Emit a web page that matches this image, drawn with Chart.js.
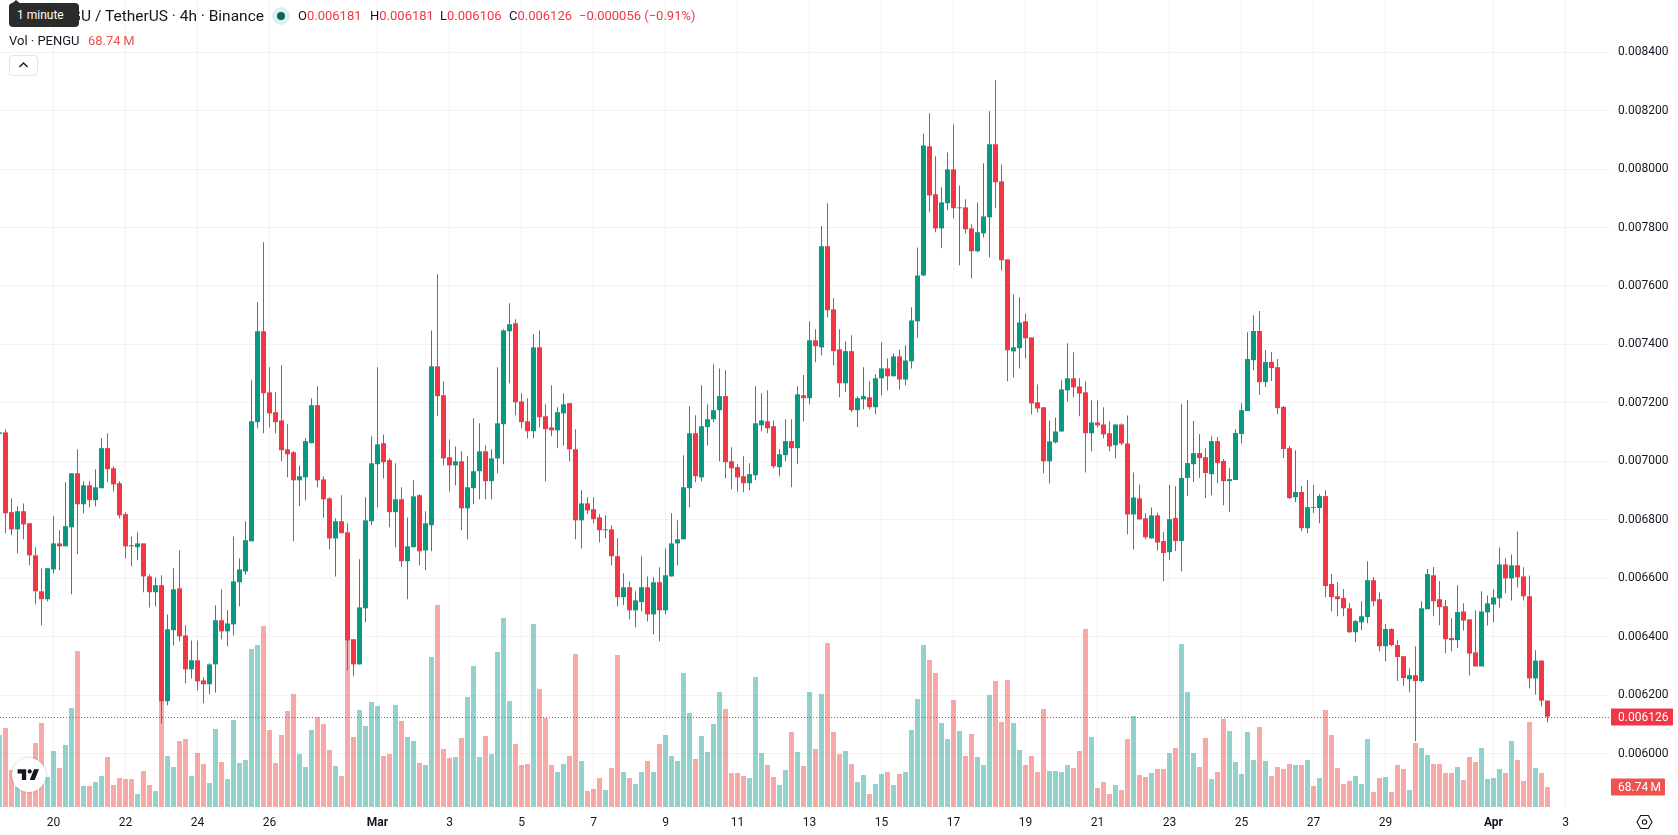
<!DOCTYPE html>
<html>
<head>
<meta charset="utf-8">
<title>PENGU / TetherUS 4h</title>
<script src="https://cdn.jsdelivr.net/npm/chart.js@4"></script>
<style>
  html, body { margin: 0; padding: 0; background: #fff; overflow: hidden; }
  #wrap { position: relative; width: 1678px; height: 835px; font-family: Roboto, sans-serif; color: #131722; }
  canvas { position: absolute; left: 0; top: 0; }
  .t { position: absolute; white-space: nowrap; line-height: 16px; font-size: 13px; }
  .red { color: #f23645; }
  #title { right: calc(1678px - 264px); top: 8px; font-size: 15.5px; line-height: 16px; }
  #dot { position: absolute; left: 272px; top: 7px; width: 18px; height: 18px; border-radius: 50%; background: #dff1ee; }
  #dot i { position: absolute; left: 5px; top: 5px; width: 8px; height: 8px; border-radius: 50%; background: #056656; }
  #hint { position: absolute; left: 9px; top: 3px; width: 70px; height: 24px; background: #2b2b2b; border-radius: 4px; color: #fff; font-size: 12px; line-height: 24px; text-indent: 8px; }
  #hintTip { position: absolute; left: 8px; top: 0; }
  #fold { position: absolute; left: 9px; top: 55px; width: 27px; height: 19px; border: 1px solid #e0e3eb; border-radius: 4px; background: #fff; }
  #fold svg { position: absolute; left: 8px; top: 5px; }
  #mark { position: absolute; left: 12px; top: 758px; width: 34px; height: 34px; border-radius: 50%; background: #fff; box-shadow: 0 0 3px rgba(0,0,0,.22); }
  #mark svg { position: absolute; left: 4px; top: 7px; }
  #gear { position: absolute; left: 1636px; top: 814px; }
</style>
</head>
<body>
<div id="wrap">
  <canvas id="chart" width="1678" height="835"></canvas>
  <div class="t" id="title">PENGU / TetherUS · 4h · Binance</div>
  <div id="hint">1 minute</div>
  <svg id="hintTip" width="16" height="6"><path d="M1 6 L8 0 L15 6 Z" fill="#2b2b2b"/></svg>
  <div id="dot"><i></i></div>
  <div class="t" style="left:298px;top:8px">O<span class="red">0.006181</span></div>
  <div class="t" style="left:370px;top:8px">H<span class="red">0.006181</span></div>
  <div class="t" style="left:440px;top:8px">L<span class="red">0.006106</span></div>
  <div class="t" style="left:509px;top:8px">C<span class="red">0.006126</span></div>
  <div class="t red" style="left:579px;top:8px">−0.000056 (−0.91%)</div>
  <div class="t" style="left:9px;top:33px">Vol · PENGU</div>
  <div class="t" style="left:88px;top:33px;color:#ef5350">68.74&#8201;M</div>
  <div id="fold"><svg width="11" height="8" viewBox="0 0 11 8"><path d="M1.5 6 L5.5 2 L9.5 6" fill="none" stroke="#131722" stroke-width="1.3"/></svg></div>
  <div id="mark"><svg width="26" height="20" viewBox="0 0 36 28"><path d="M14 6H2v6h6v9h6V6Zm12 15h-7l6-15h7l-6 15Zm-7-9a3 3 0 1 0 0-6 3 3 0 0 0 0 6Z" fill="#131722"/></svg></div>
  <svg id="gear" width="17" height="16" viewBox="0 0 17 16"><path d="M4.7 1.5 H12.3 L16 8 L12.3 14.5 H4.7 L1 8 Z" fill="none" stroke="#131722" stroke-width="1.1"/><circle cx="8.5" cy="8" r="2.2" fill="none" stroke="#131722" stroke-width="1.1"/></svg>
</div>
<script>
// PENGU/USDT 4h candles, oldest first
const opens = [
0.007094,0.007099,0.006826,0.006767,0.006829,0.006788,0.006678,0.006555,0.006528,0.006630,
0.006719,0.006709,0.006774,0.006959,0.006853,0.006918,0.006867,0.006908,0.007045,0.006976,
0.006925,0.006819,0.006713,0.006706,0.006719,0.006606,0.006552,0.006576,0.006179,0.006422,
0.006565,0.006404,0.006288,0.006319,0.006250,0.006237,0.006305,0.006456,0.006418,0.006442,
0.006586,0.006623,0.006726,0.007134,0.007445,0.007236,0.007168,0.007140,0.007041,0.007031,
0.006935,0.006945,0.007062,0.007192,0.006938,0.006873,0.006736,0.006795,0.006757,0.006391,
0.006305,0.006497,0.006795,0.006990,0.007062,0.007004,0.006826,0.006870,0.006658,0.006706,
0.006884,0.006695,0.006781,0.007325,0.007226,0.007014,0.006986,0.007000,0.006839,0.006908,
0.006966,0.007034,0.006932,0.007010,0.007127,0.007445,0.007472,0.007205,0.007137,0.007103,
0.007390,0.007154,0.007116,0.007106,0.007164,0.007199,0.007041,0.006798,0.006856,0.006836,
0.006808,0.006764,0.006767,0.006675,0.006535,0.006569,0.006490,0.006518,0.006569,0.006476,
0.006586,0.006490,0.006606,0.006719,0.006733,0.006908,0.007096,0.006945,0.007117,0.007144,
0.007175,0.007223,0.007000,0.006980,0.006949,0.006925,0.006952,0.007123,0.007137,0.007120,
0.006980,0.007021,0.007069,0.007045,0.007226,0.007216,0.007414,0.007390,0.007736,0.007520,
0.007383,0.007267,0.007377,0.007175,0.007212,0.007219,0.007185,0.007284,0.007318,0.007291,
0.007359,0.007280,0.007342,0.007479,0.007636,0.008078,0.007914,0.007797,0.007883,0.007999,
0.007866,0.007869,0.007797,0.007719,0.007780,0.007835,0.008085,0.007958,0.007691,0.007376,
0.007387,0.007479,0.007424,0.007202,0.007185,0.007000,0.007065,0.007102,0.007243,0.007284,
0.007256,0.007236,0.007096,0.007133,0.007126,0.007096,0.007055,0.007126,0.007061,0.006818,
0.006873,0.006805,0.006736,0.006815,0.006727,0.006689,0.006806,0.006727,0.006943,0.006990,
0.007028,0.007014,0.006956,0.007069,0.007001,0.006932,0.006936,0.007093,0.007172,0.007346,
0.007446,0.007271,0.007340,0.007322,0.007186,0.007045,0.006877,0.006895,0.006771,0.006843,
0.006840,0.006881,0.006580,0.006538,0.006532,0.006497,0.006415,0.006449,0.006467,0.006593,
0.006528,0.006367,0.006426,0.006371,0.006333,0.006254,0.006268,0.006248,0.006494,0.006610,
0.006528,0.006504,0.006395,0.006388,0.006486,0.006459,0.006346,0.006298,0.006483,0.006510,
0.006531,0.006647,0.006599,0.006644,0.006606,0.006538,0.006257,0.006318,0.006181];
const highs = [
0.007099,0.007110,0.006873,0.006846,0.006856,0.006788,0.006706,0.006634,0.006634,0.006812,
0.006764,0.006928,0.006959,0.007041,0.006932,0.006932,0.006973,0.007079,0.007096,0.006983,
0.006932,0.006826,0.006743,0.006757,0.006719,0.006613,0.006603,0.006610,0.006476,0.006634,
0.006695,0.006439,0.006387,0.006387,0.006261,0.006309,0.006507,0.006562,0.006490,0.006743,
0.006668,0.006795,0.007277,0.007544,0.007750,0.007322,0.007236,0.007329,0.007127,0.007034,
0.006986,0.007079,0.007216,0.007257,0.006949,0.006877,0.006805,0.006884,0.006788,0.006391,
0.006665,0.006877,0.007086,0.007322,0.007092,0.007010,0.006993,0.006911,0.006808,0.006935,
0.006887,0.006829,0.007448,0.007640,0.007274,0.007075,0.007051,0.007034,0.007017,0.007147,
0.007130,0.007055,0.007041,0.007322,0.007452,0.007541,0.007486,0.007233,0.007216,0.007435,
0.007448,0.007195,0.007260,0.007185,0.007233,0.007199,0.007110,0.006901,0.006877,0.006877,
0.006819,0.006815,0.006781,0.006737,0.006617,0.006589,0.006555,0.006675,0.006606,0.006603,
0.006637,0.006702,0.006822,0.006798,0.007021,0.007188,0.007158,0.007260,0.007195,0.007332,
0.007318,0.007312,0.007048,0.006990,0.007017,0.006993,0.007257,0.007233,0.007243,0.007140,
0.007041,0.007144,0.007144,0.007257,0.007295,0.007479,0.007452,0.007805,0.007883,0.007558,
0.007452,0.007411,0.007431,0.007223,0.007322,0.007274,0.007298,0.007407,0.007352,0.007369,
0.007383,0.007397,0.007527,0.007732,0.008122,0.008191,0.008044,0.007938,0.008057,0.008153,
0.007944,0.007897,0.007811,0.007886,0.008020,0.008198,0.008304,0.008016,0.007691,0.007571,
0.007561,0.007506,0.007424,0.007263,0.007185,0.007140,0.007150,0.007277,0.007404,0.007373,
0.007284,0.007274,0.007209,0.007209,0.007185,0.007137,0.007126,0.007130,0.007157,0.006962,
0.006921,0.006822,0.006842,0.006825,0.006758,0.006919,0.006915,0.007196,0.007210,0.007138,
0.007093,0.007045,0.007086,0.007083,0.007008,0.006977,0.007110,0.007199,0.007442,0.007500,
0.007514,0.007381,0.007374,0.007350,0.007189,0.007052,0.007038,0.006915,0.006936,0.006919,
0.006888,0.006901,0.006614,0.006586,0.006563,0.006515,0.006457,0.006521,0.006658,0.006604,
0.006552,0.006443,0.006429,0.006388,0.006333,0.006292,0.006367,0.006521,0.006631,0.006638,
0.006590,0.006525,0.006463,0.006576,0.006514,0.006459,0.006490,0.006555,0.006541,0.006562,
0.006705,0.006668,0.006681,0.006760,0.006637,0.006609,0.006353,0.006318,0.006181];
const lows = [
0.007094,0.006754,0.006747,0.006685,0.006733,0.006644,0.006511,0.006439,0.006521,0.006617,
0.006627,0.006709,0.006545,0.006682,0.006822,0.006843,0.006846,0.006908,0.006928,0.006897,
0.006805,0.006668,0.006641,0.006661,0.006552,0.006500,0.006504,0.006103,0.006165,0.006370,
0.006384,0.006240,0.006257,0.006216,0.006172,0.006203,0.006209,0.006391,0.006367,0.006404,
0.006504,0.006613,0.006726,0.007113,0.007096,0.007116,0.007096,0.007000,0.006945,0.006726,
0.006846,0.006867,0.007062,0.006911,0.006808,0.006699,0.006606,0.006754,0.006285,0.006264,
0.006305,0.006449,0.006781,0.006843,0.006942,0.006774,0.006706,0.006637,0.006528,0.006706,
0.006644,0.006627,0.006692,0.007154,0.006986,0.006897,0.006918,0.006764,0.006733,0.006853,
0.006870,0.006870,0.006870,0.006959,0.006990,0.007267,0.007158,0.007113,0.007079,0.007079,
0.007116,0.006932,0.007086,0.007045,0.007055,0.007000,0.006733,0.006702,0.006819,0.006788,
0.006723,0.006737,0.006644,0.006504,0.006507,0.006459,0.006432,0.006487,0.006452,0.006408,
0.006384,0.006476,0.006606,0.006644,0.006733,0.006843,0.006928,0.006932,0.007055,0.007134,
0.007000,0.006942,0.006904,0.006897,0.006894,0.006901,0.006935,0.007103,0.007096,0.006976,
0.006949,0.007000,0.006911,0.006990,0.007137,0.007195,0.007339,0.007363,0.007493,0.007329,
0.007219,0.007236,0.007168,0.007117,0.007178,0.007178,0.007161,0.007226,0.007243,0.007291,
0.007246,0.007260,0.007318,0.007424,0.007633,0.007852,0.007784,0.007729,0.007859,0.007831,
0.007671,0.007780,0.007626,0.007715,0.007766,0.007698,0.007866,0.007653,0.007274,0.007287,
0.007318,0.007352,0.007161,0.007167,0.006959,0.006924,0.007061,0.007102,0.007205,0.007219,
0.007154,0.006962,0.007034,0.007116,0.007078,0.007034,0.007010,0.007055,0.006750,0.006698,
0.006801,0.006733,0.006736,0.006695,0.006590,0.006662,0.006693,0.006624,0.006881,0.006929,
0.006943,0.006874,0.006884,0.006925,0.006850,0.006826,0.006936,0.007062,0.007172,0.007312,
0.007227,0.007254,0.007275,0.007162,0.007011,0.006871,0.006860,0.006761,0.006754,0.006823,
0.006788,0.006535,0.006487,0.006470,0.006470,0.006412,0.006381,0.006422,0.006446,0.006504,
0.006350,0.006316,0.006367,0.006248,0.006231,0.006210,0.006042,0.006244,0.006494,0.006470,
0.006439,0.006343,0.006350,0.006361,0.006421,0.006267,0.006298,0.006298,0.006438,0.006449,
0.006500,0.006548,0.006524,0.006568,0.006524,0.006223,0.006202,0.006161,0.006106];
const closes = [
0.007099,0.006822,0.006767,0.006829,0.006784,0.006678,0.006555,0.006528,0.006634,0.006719,
0.006709,0.006778,0.006959,0.006853,0.006918,0.006867,0.006911,0.007045,0.006973,0.006921,
0.006815,0.006709,0.006709,0.006719,0.006606,0.006552,0.006576,0.006179,0.006425,0.006562,
0.006401,0.006288,0.006319,0.006247,0.006237,0.006305,0.006456,0.006418,0.006445,0.006589,
0.006630,0.006730,0.007137,0.007445,0.007233,0.007164,0.007134,0.007038,0.007024,0.006935,
0.006949,0.007069,0.007192,0.006935,0.006870,0.006736,0.006795,0.006754,0.006387,0.006305,
0.006500,0.006798,0.006993,0.007058,0.006997,0.006826,0.006870,0.006658,0.006709,0.006880,
0.006692,0.006788,0.007325,0.007223,0.007010,0.006986,0.007000,0.006839,0.006911,0.006966,
0.007034,0.006932,0.007010,0.007130,0.007448,0.007469,0.007202,0.007134,0.007103,0.007390,
0.007151,0.007110,0.007106,0.007168,0.007195,0.007041,0.006798,0.006856,0.006832,0.006802,
0.006764,0.006767,0.006675,0.006535,0.006569,0.006490,0.006524,0.006569,0.006476,0.006586,
0.006490,0.006610,0.006719,0.006733,0.006911,0.007096,0.006949,0.007120,0.007144,0.007175,
0.007223,0.006997,0.006976,0.006945,0.006925,0.006956,0.007130,0.007140,0.007113,0.006983,
0.007024,0.007069,0.007045,0.007229,0.007216,0.007414,0.007394,0.007736,0.007517,0.007377,
0.007267,0.007377,0.007175,0.007216,0.007223,0.007185,0.007284,0.007318,0.007291,0.007359,
0.007280,0.007345,0.007482,0.007636,0.008081,0.007910,0.007797,0.007886,0.007999,0.007866,
0.007869,0.007794,0.007719,0.007784,0.007838,0.008085,0.007955,0.007688,0.007380,0.007390,
0.007475,0.007421,0.007198,0.007181,0.007000,0.007068,0.007102,0.007246,0.007284,0.007253,
0.007232,0.007096,0.007133,0.007123,0.007092,0.007051,0.007126,0.007061,0.006818,0.006876,
0.006801,0.006740,0.006815,0.006722,0.006686,0.006802,0.006727,0.006943,0.006994,0.007028,
0.007011,0.006960,0.007069,0.006994,0.006932,0.006939,0.007097,0.007175,0.007350,0.007446,
0.007271,0.007340,0.007319,0.007182,0.007042,0.006874,0.006895,0.006771,0.006843,0.006840,
0.006881,0.006573,0.006535,0.006528,0.006497,0.006415,0.006453,0.006470,0.006593,0.006521,
0.006367,0.006426,0.006371,0.006330,0.006258,0.006268,0.006248,0.006497,0.006614,0.006521,
0.006501,0.006391,0.006388,0.006484,0.006455,0.006342,0.006298,0.006486,0.006514,0.006534,
0.006647,0.006599,0.006644,0.006603,0.006538,0.006257,0.006318,0.006181,0.006126];
// Traded volume per candle, in millions of PENGU
const volumes = [
247.5,271.6,127.2,69.9,104.3,58.4,220,288.8,103.1,192.5,
134.1,213.2,340.4,536.3,72.2,72.2,86,106.6,171.9,75.6,
99.7,96.3,96.3,44.7,123.8,75.6,55,373.6,175.3,137.5,
226.9,233.8,106.6,185.7,147.8,82.5,268.2,154.7,96.3,299.1,
151.3,161.6,543.2,557,622.3,264.7,151.3,247.5,330,388.5,
182.2,137.5,264.7,309.4,285.4,196,141,106.6,579.9,240.7,
333.5,278.5,361,347.2,175.3,182.2,350.7,295.7,240.7,226.9,
151.3,144.4,515.7,694.5,199.4,168.5,171.9,237.2,378.2,484.8,
171.9,244.1,182.2,532.9,649.8,364.4,216.6,144.4,147.8,629.2,
405.7,306,144.4,120.3,147.8,175.3,526,158.1,55,61.9,
99.7,58.4,134.1,522.6,120.3,99.7,79.1,120.3,158.1,120.3,
216.6,247.5,175.3,158.1,460.7,323.2,165,244.1,189.1,285.4,
395.4,336.9,116.9,116.9,106.6,99.7,446.9,185.7,144.4,103.1,
75.6,127.2,257.9,189.1,141,395.4,199.4,388.5,563.8,257.9,
182.2,192.5,147.8,86,110,44.7,79.1,113.5,120.3,75.6,
113.5,120.3,264.7,371.3,557,505.4,460.7,288.8,233.8,367.9,
261.3,175.3,251,171.9,144.4,385.1,433.2,292.2,436.6,288.8,
196,144.4,175.3,120.3,336.9,123.8,123.8,120.3,144.4,134.1,
192.5,612,240.7,65.3,86,44.7,75.6,58.4,233.8,312.9,
110,103.1,116.9,130.6,130.6,185.7,202.8,560.4,395.4,185.7,
137.5,237.2,96.3,120.3,302.5,261.3,154.7,113.5,257.9,161.6,
275,158.1,106.6,137.5,130.6,147.8,144.4,144.4,161.6,72.2,
99.7,333.5,247.5,134.1,79.1,89.4,106.6,79.1,233.8,51.6,
99.7,103.1,51.6,144.4,130.6,58.4,220,202.8,178.8,147.8,
147.8,116.9,116.9,137.5,92.8,171.9,154.7,202.8,96.3,99.7,
130.6,116.9,226.9,161.6,89.4,292.2,134.1,116.9,68.74];

// Time axis: candle position of each labelled date, and what it reads
const dateTickBars = [9,21,33,45,63,75,87,99,111,123,135,147,159,171,183,195,207,219,231,249,261];
const dateTickLabels = ['20','22','24','26','Mar','3','5','7','9','11','13','15','17','19','21','23','25','27','29','Apr','3'];
const monthLabels = ['Mar','Apr'];
const priceTicks = [0.0060,0.0062,0.0064,0.0066,0.0068,0.0070,0.0072,0.0074,0.0076,0.0078,0.0080,0.0082,0.0084];

const UP = '#089981', DOWN = '#f23645';
const VOL_UP = 'rgba(38,166,154,0.5)', VOL_DOWN = 'rgba(239,83,80,0.5)';
const GRID = '#f2f3f5', TEXT = '#131722';

const isUp = opens.map((o, i) => closes[i] >= o);
const candleColors = isUp.map(u => u ? UP : DOWN);
const volumeColors = isUp.map(u => u ? VOL_UP : VOL_DOWN);

// Axis label overhang must not push the plot in from the canvas edges
const noOverhang = axis => {
  axis.paddingLeft = axis.paddingRight = axis.paddingTop = axis.paddingBottom = 0;
};

// Last-price line and the two value badges in the price column
const lastValues = {
  id: 'lastValues',
  afterDatasetsDraw(chart) {
    const { ctx, chartArea, scales } = chart;
    const y = Math.round(scales.y.getPixelForValue(closes[closes.length - 1])) + 0.5;
    ctx.save();
    ctx.strokeStyle = DOWN;
    ctx.lineWidth = 1;
    ctx.setLineDash([1, 2]);
    ctx.beginPath();
    ctx.moveTo(chartArea.left, y);
    ctx.lineTo(chartArea.right, y);
    ctx.stroke();
    ctx.restore();
  },
  afterDraw(chart) {
    const { ctx, chartArea, scales } = chart;
    const lastClose = closes[closes.length - 1];
    const lastVol = volumes[volumes.length - 1];
    const badge = (cy, w, fill, text) => {
      const x = chartArea.right + 1;
      ctx.fillStyle = fill;
      ctx.beginPath();
      ctx.roundRect(x, Math.round(cy) - 8.5, w, 17, 1);
      ctx.fill();
      ctx.fillStyle = '#fff';
      ctx.font = '12px Roboto, sans-serif';
      ctx.textBaseline = 'middle';
      ctx.textAlign = 'left';
      ctx.fillText(text, x + 7, Math.round(cy) + 0.5);
    };
    ctx.save();
    badge(scales.y.getPixelForValue(lastClose), 62, DOWN, lastClose.toFixed(6));
    badge(scales.vol.getPixelForValue(lastVol), 54, '#ef5350', lastVol.toFixed(2) + '\u2009M');
    ctx.restore();
  }
};

new Chart(document.getElementById('chart'), {
  type: 'bar',
  data: {
    datasets: [
      {
        label: 'Volume',
        yAxisID: 'vol',
        order: 3,
        grouped: false,
        barThickness: 5,
        inflateAmount: 0,
        backgroundColor: volumeColors,
        data: volumes.map((v, i) => ({ x: i, y: v }))
      },
      {
        label: 'Wicks',
        yAxisID: 'y',
        order: 2,
        grouped: false,
        barThickness: 1,
        inflateAmount: 0,
        backgroundColor: candleColors,
        data: lows.map((l, i) => ({ x: i, y: [l, highs[i]] }))
      },
      {
        label: 'Bodies',
        yAxisID: 'y',
        order: 1,
        grouped: false,
        barThickness: 5,
        inflateAmount: 0,
        backgroundColor: candleColors,
        data: opens.map((o, i) => ({ x: i, y: [o, closes[i]] }))
      }
    ]
  },
  options: {
    responsive: false,
    animation: false,
    events: [],
    layout: { padding: 0 },
    plugins: { legend: { display: false }, tooltip: { enabled: false } },
    scales: {
      x: {
        type: 'linear',
        offset: false,
        min: 0.08333,
        max: 268.41667,
        afterBuildTicks(axis) { axis.ticks = dateTickBars.map(value => ({ value })); },
        afterFit(axis) { axis.height = 28; noOverhang(axis); },
        border: { display: false },
        grid: { offset: false, color: GRID, lineWidth: 1, drawTicks: false },
        ticks: {
          autoSkip: false,
          maxRotation: 0,
          padding: 9,
          color: TEXT,
          font: ctx => {
            const isMonth = ctx.tick && monthLabels.includes(dateTickLabels[dateTickBars.indexOf(ctx.tick.value)]);
            return { family: 'Roboto, sans-serif', size: 12, weight: isMonth ? 'bold' : 'normal' };
          },
          callback: value => dateTickLabels[dateTickBars.indexOf(value)]
        }
      },
      y: {
        type: 'linear',
        position: 'right',
        min: 0.00581691,
        max: 0.0085787,
        afterBuildTicks(axis) { axis.ticks = priceTicks.map(value => ({ value })); },
        afterFit(axis) { axis.width = 68; noOverhang(axis); },
        border: { display: false },
        grid: { color: GRID, lineWidth: 1, drawTicks: false },
        ticks: {
          padding: 8,
          color: TEXT,
          font: { family: 'Roboto, sans-serif', size: 12 },
          callback: value => value.toFixed(6)
        }
      },
      // Volume pane shares the plot floor; its own scale stays hidden
      vol: {
        type: 'linear',
        display: false,
        position: 'right',
        min: 0,
        max: 2773.7
      }
    }
  },
  plugins: [lastValues]
});
</script>
</body>
</html>
